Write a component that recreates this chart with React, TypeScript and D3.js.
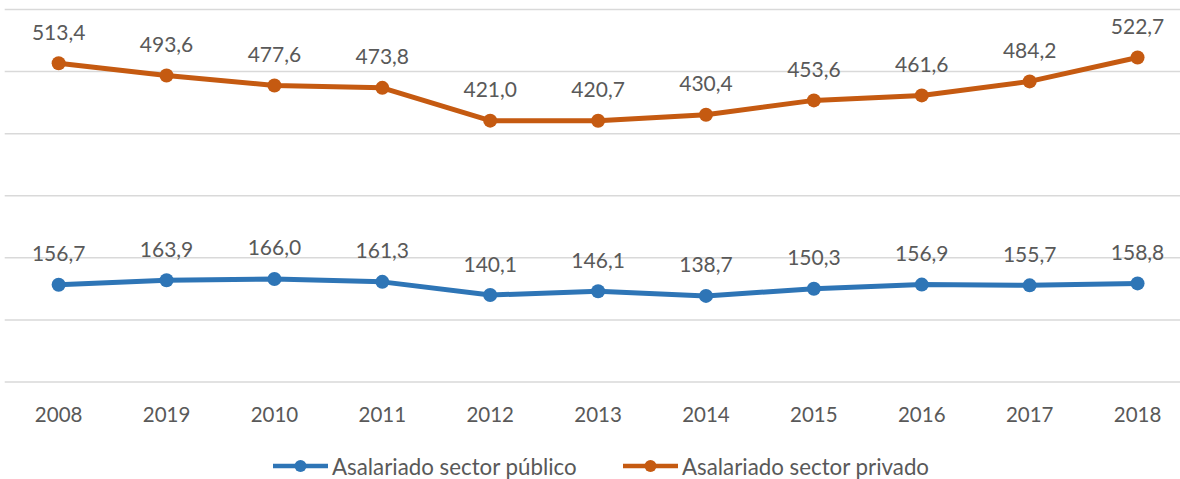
import React from "react";
import * as d3 from "d3";

const years = ["2008", "2019", "2010", "2011", "2012", "2013", "2014", "2015", "2016", "2017", "2018"];
const publico = [156.7, 163.9, 166.0, 161.3, 140.1, 146.1, 138.7, 150.3, 156.9, 155.7, 158.8];
const privado = [513.4, 493.6, 477.6, 473.8, 421.0, 420.7, 430.4, 453.6, 461.6, 484.2, 522.7];
const gridTicks = [0, 100, 200, 300, 400, 500, 600];
const seriesNames = ["Asalariado sector público", "Asalariado sector privado"];

const W = 1180;
const H = 479;
const BLUE = "#2E75B6";
const ORANGE = "#C55A11";
const TEXT = "#595959";
const FONT = "Lato, 'Open Sans', sans-serif";

export default function App() {
  const x = d3.scaleBand<string>().domain(years).range([4.7, 1191.5]);
  const y = d3.scaleLinear().domain([0, 600]).range([382, 9.5]);
  const cx = (d: string) => (x(d) as number) + x.bandwidth() / 2;
  const line = d3
    .line<number>()
    .x((_, i) => cx(years[i]))
    .y((v) => y(v));
  const fmt = (v: number) => v.toFixed(1).replace(".", ",");
  const series = [
    { name: seriesNames[0], values: publico, color: BLUE },
    { name: seriesNames[1], values: privado, color: ORANGE },
  ];
  const legendX = [273, 623];

  return (
    <svg width={W} height={H} style={{ position: "absolute", left: 0, top: 0, background: "#fff" }}>
      {gridTicks.map((t) => (
        <line key={t} x1={4.7} x2={W} y1={y(t)} y2={y(t)} stroke="#D9D9D9" strokeWidth={1.5} />
      ))}
      {series.map((s) => (
        <g key={s.name}>
          <path d={line(s.values) || ""} fill="none" stroke={s.color} strokeWidth={5} strokeLinejoin="round" />
          {s.values.map((v, i) => (
            <circle key={i} cx={cx(years[i])} cy={y(v)} r={7} fill={s.color} />
          ))}
          {s.values.map((v, i) => (
            <text
              key={"t" + i}
              x={cx(years[i])}
              y={y(v) - 23.5}
              textAnchor="middle"
              fontFamily={FONT}
              fontSize={21}
              fill={TEXT}
            >
              {fmt(v)}
            </text>
          ))}
        </g>
      ))}
      {years.map((yr) => (
        <text key={yr} x={cx(yr)} y={421.5} textAnchor="middle" fontFamily={FONT} fontSize={20.5} fill={TEXT}>
          {yr}
        </text>
      ))}
      {series.map((s, i) => (
        <g key={"lg" + i} transform={`translate(${legendX[i]},466)`}>
          <line x1={0} x2={55} y1={0} y2={0} stroke={s.color} strokeWidth={4.5} />
          <circle cx={27.5} cy={0} r={6} fill={s.color} />
          <text x={59} y={9} fontFamily={FONT} fontSize={22.3} fill={TEXT}>
            {s.name}
          </text>
        </g>
      ))}
    </svg>
  );
}
